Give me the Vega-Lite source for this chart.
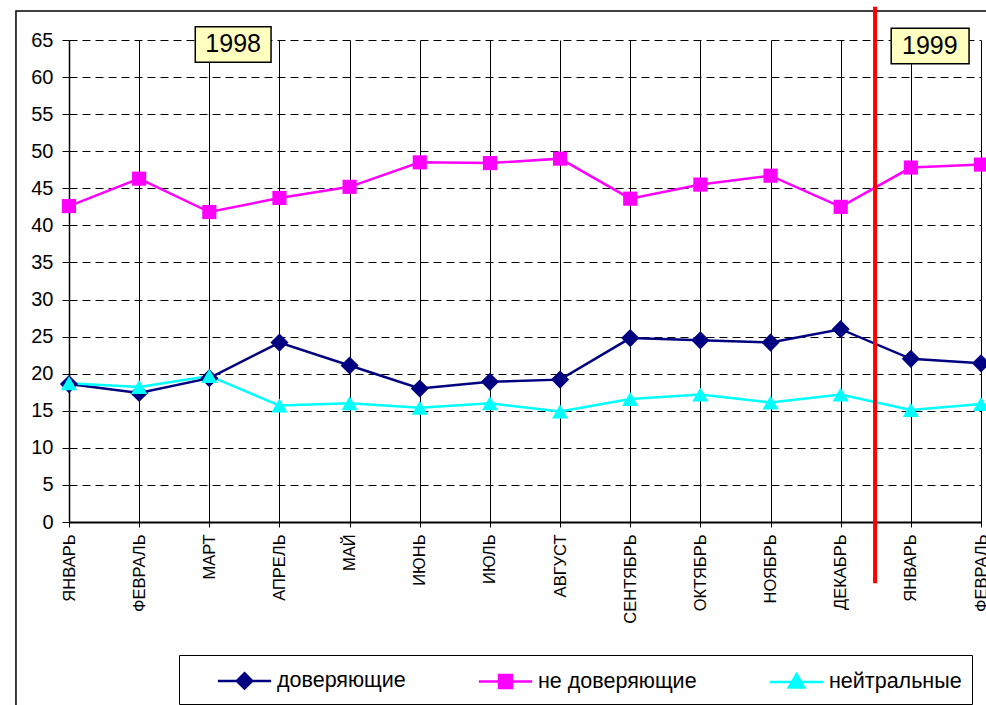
{
  "$schema": "https://vega.github.io/schema/vega-lite/v6.json",
  "autosize": {"type": "none"},
  "padding": {"left": 69, "top": 40, "right": 5, "bottom": 183},
  "width": 912,
  "height": 482,
  "background": "white",
  "config": {
    "view": {"stroke": null},
    "font": "Liberation Sans",
    "axisX": {
      "labelFontSize": 16, "labelColor": "black", "labelPadding": 7, "labelFlush": false, "labelOverlap": false,
      "tickSize": 5, "tickColor": "black", "domainColor": "black", "domainWidth": 2,
      "grid": true, "gridColor": "black", "gridWidth": 1, "gridOpacity": 1
    },
    "axisY": {
      "labelFontSize": 20, "labelColor": "black", "labelPadding": 9, "labelFlush": false, "labelOverlap": false,
      "tickSize": 7, "tickColor": "black", "domainColor": "black", "domainWidth": 1.5,
      "grid": true, "gridColor": "black", "gridWidth": 1, "gridOpacity": 1, "gridDash": [8, 5]
    }
  },
  "data": {"values": [
    {"i": 0, "m": "ЯНВАРЬ", "s": "доверяющие", "v": 18.6},
    {"i": 1, "m": "ФЕВРАЛЬ", "s": "доверяющие", "v": 17.4},
    {"i": 2, "m": "МАРТ", "s": "доверяющие", "v": 19.4},
    {"i": 3, "m": "АПРЕЛЬ", "s": "доверяющие", "v": 24.2},
    {"i": 4, "m": "МАЙ", "s": "доверяющие", "v": 21.1},
    {"i": 5, "m": "ИЮНЬ", "s": "доверяющие", "v": 18.0},
    {"i": 6, "m": "ИЮЛЬ", "s": "доверяющие", "v": 18.9},
    {"i": 7, "m": "АВГУСТ", "s": "доверяющие", "v": 19.2},
    {"i": 8, "m": "СЕНТЯБРЬ", "s": "доверяющие", "v": 24.8},
    {"i": 9, "m": "ОКТЯБРЬ", "s": "доверяющие", "v": 24.5},
    {"i": 10, "m": "НОЯБРЬ", "s": "доверяющие", "v": 24.2},
    {"i": 11, "m": "ДЕКАБРЬ", "s": "доверяющие", "v": 26.0},
    {"i": 12, "m": "ЯНВАРЬ", "s": "доверяющие", "v": 22.0},
    {"i": 13, "m": "ФЕВРАЛЬ", "s": "доверяющие", "v": 21.4},
    {"i": 0, "m": "ЯНВАРЬ", "s": "не доверяющие", "v": 42.6},
    {"i": 1, "m": "ФЕВРАЛЬ", "s": "не доверяющие", "v": 46.3},
    {"i": 2, "m": "МАРТ", "s": "не доверяющие", "v": 41.8},
    {"i": 3, "m": "АПРЕЛЬ", "s": "не доверяющие", "v": 43.7},
    {"i": 4, "m": "МАЙ", "s": "не доверяющие", "v": 45.2},
    {"i": 5, "m": "ИЮНЬ", "s": "не доверяющие", "v": 48.5},
    {"i": 6, "m": "ИЮЛЬ", "s": "не доверяющие", "v": 48.4},
    {"i": 7, "m": "АВГУСТ", "s": "не доверяющие", "v": 49.0},
    {"i": 8, "m": "СЕНТЯБРЬ", "s": "не доверяющие", "v": 43.6},
    {"i": 9, "m": "ОКТЯБРЬ", "s": "не доверяющие", "v": 45.5},
    {"i": 10, "m": "НОЯБРЬ", "s": "не доверяющие", "v": 46.7},
    {"i": 11, "m": "ДЕКАБРЬ", "s": "не доверяющие", "v": 42.5},
    {"i": 12, "m": "ЯНВАРЬ", "s": "не доверяющие", "v": 47.8},
    {"i": 13, "m": "ФЕВРАЛЬ", "s": "не доверяющие", "v": 48.2},
    {"i": 0, "m": "ЯНВАРЬ", "s": "нейтральные", "v": 18.7},
    {"i": 1, "m": "ФЕВРАЛЬ", "s": "нейтральные", "v": 18.2},
    {"i": 2, "m": "МАРТ", "s": "нейтральные", "v": 19.7},
    {"i": 3, "m": "АПРЕЛЬ", "s": "нейтральные", "v": 15.7},
    {"i": 4, "m": "МАЙ", "s": "нейтральные", "v": 16.0},
    {"i": 5, "m": "ИЮНЬ", "s": "нейтральные", "v": 15.4},
    {"i": 6, "m": "ИЮЛЬ", "s": "нейтральные", "v": 16.0},
    {"i": 7, "m": "АВГУСТ", "s": "нейтральные", "v": 14.9},
    {"i": 8, "m": "СЕНТЯБРЬ", "s": "нейтральные", "v": 16.6},
    {"i": 9, "m": "ОКТЯБРЬ", "s": "нейтральные", "v": 17.2},
    {"i": 10, "m": "НОЯБРЬ", "s": "нейтральные", "v": 16.1},
    {"i": 11, "m": "ДЕКАБРЬ", "s": "нейтральные", "v": 17.2},
    {"i": 12, "m": "ЯНВАРЬ", "s": "нейтральные", "v": 15.1},
    {"i": 13, "m": "ФЕВРАЛЬ", "s": "нейтральные", "v": 15.9}
  ]},
  "layer": [
    {
      "mark": {"type": "line", "strokeWidth": 2.5},
      "encoding": {
        "x": {
          "field": "i", "type": "quantitative",
          "scale": {"domain": [0, 13], "nice": false, "zero": false},
          "axis": {"title": null, "values": [0, 1, 2, 3, 4, 5, 6, 7, 8, 9, 10, 11, 12, 13], "tickCount": 30, "labelFontSize": 16.5, "labelAngle": -90, "labelExpr": "['ЯНВАРЬ','ФЕВРАЛЬ','МАРТ','АПРЕЛЬ','МАЙ','ИЮНЬ','ИЮЛЬ','АВГУСТ','СЕНТЯБРЬ','ОКТЯБРЬ','НОЯБРЬ','ДЕКАБРЬ','ЯНВАРЬ','ФЕВРАЛЬ'][datum.value]"}
        },
        "y": {
          "field": "v", "type": "quantitative",
          "scale": {"domain": [0, 65], "nice": false},
          "axis": {"title": null, "values": [0, 5, 10, 15, 20, 25, 30, 35, 40, 45, 50, 55, 60, 65], "tickCount": 30, "labelFontSize": 20}
        },
        "color": {
          "field": "s", "type": "nominal",
          "scale": {"domain": ["доверяющие", "не доверяющие", "нейтральные"], "range": ["#000080", "#FF00FF", "#00FFFF"]},
          "legend": {
            "orient": "none",
            "legendX": 110,
            "legendY": 615,
            "direction": "horizontal",
            "columns": 3,
            "title": null,
            "labelFont": "Liberation Sans",
            "labelFontSize": 21.5,
            "labelColor": "black",
            "symbolSize": 784,
            "symbolStrokeWidth": 2.5,
            "symbolOffset": 40,
            "labelOffset": 17,
            "columnPadding": 44,
            "padding": 10,
            "strokeColor": "black",
            "fillColor": "white",
            "encode": {
              "symbols": {
                "update": {
                  "shape": {"signal": "datum.value === 'доверяющие' ? 'M-1.9,0H1.9M0,-0.55L0.55,0L0,0.55L-0.55,0Z' : datum.value === 'не доверяющие' ? 'M-1.9,0H1.9M-0.46,-0.46H0.46V0.46H-0.46Z' : 'M-1.9,0H1.9M0,-0.55L0.55,0.4H-0.55Z'"},
                  "stroke": {"signal": "scale('color', datum.value)"},
                  "fill": {"signal": "scale('color', datum.value)"},
                  "strokeWidth": {"value": 2.5},
                  "opacity": {"value": 1}
                }
              }
            }
          }
        }
      }
    },
    {
      "transform": [{"filter": "datum.s === 'доверяющие'"}],
      "mark": {"type": "point", "filled": true, "opacity": 1, "shape": "diamond", "size": 330, "color": "#000080"},
      "encoding": {
        "x": {"field": "i", "type": "quantitative", "axis": {"title": null, "values": [0, 1, 2, 3, 4, 5, 6, 7, 8, 9, 10, 11, 12, 13], "tickCount": 30, "labelFontSize": 16.5, "labelAngle": -90, "labelExpr": "['ЯНВАРЬ','ФЕВРАЛЬ','МАРТ','АПРЕЛЬ','МАЙ','ИЮНЬ','ИЮЛЬ','АВГУСТ','СЕНТЯБРЬ','ОКТЯБРЬ','НОЯБРЬ','ДЕКАБРЬ','ЯНВАРЬ','ФЕВРАЛЬ'][datum.value]"}},
        "y": {"field": "v", "type": "quantitative", "axis": {"title": null, "values": [0, 5, 10, 15, 20, 25, 30, 35, 40, 45, 50, 55, 60, 65], "tickCount": 30, "labelFontSize": 20}}
      }
    },
    {
      "transform": [{"filter": "datum.s === 'не доверяющие'"}],
      "mark": {"type": "point", "filled": true, "opacity": 1, "shape": "square", "size": 200, "color": "#FF00FF"},
      "encoding": {
        "x": {"field": "i", "type": "quantitative", "axis": {"title": null, "values": [0, 1, 2, 3, 4, 5, 6, 7, 8, 9, 10, 11, 12, 13], "tickCount": 30, "labelFontSize": 16.5, "labelAngle": -90, "labelExpr": "['ЯНВАРЬ','ФЕВРАЛЬ','МАРТ','АПРЕЛЬ','МАЙ','ИЮНЬ','ИЮЛЬ','АВГУСТ','СЕНТЯБРЬ','ОКТЯБРЬ','НОЯБРЬ','ДЕКАБРЬ','ЯНВАРЬ','ФЕВРАЛЬ'][datum.value]"}},
        "y": {"field": "v", "type": "quantitative", "axis": {"title": null, "values": [0, 5, 10, 15, 20, 25, 30, 35, 40, 45, 50, 55, 60, 65], "tickCount": 30, "labelFontSize": 20}}
      }
    },
    {
      "transform": [{"filter": "datum.s === 'нейтральные'"}],
      "mark": {"type": "point", "filled": true, "opacity": 1, "shape": "triangle-up", "size": 260, "color": "#00FFFF"},
      "encoding": {
        "x": {"field": "i", "type": "quantitative", "axis": {"title": null, "values": [0, 1, 2, 3, 4, 5, 6, 7, 8, 9, 10, 11, 12, 13], "tickCount": 30, "labelFontSize": 16.5, "labelAngle": -90, "labelExpr": "['ЯНВАРЬ','ФЕВРАЛЬ','МАРТ','АПРЕЛЬ','МАЙ','ИЮНЬ','ИЮЛЬ','АВГУСТ','СЕНТЯБРЬ','ОКТЯБРЬ','НОЯБРЬ','ДЕКАБРЬ','ЯНВАРЬ','ФЕВРАЛЬ'][datum.value]"}},
        "y": {"field": "v", "type": "quantitative", "axis": {"title": null, "values": [0, 5, 10, 15, 20, 25, 30, 35, 40, 45, 50, 55, 60, 65], "tickCount": 30, "labelFontSize": 20}}
      }
    },
    {
      "data": {"values": [{}]},
      "mark": {"type": "rect", "fill": "transparent", "stroke": "black", "strokeWidth": 1.5},
      "encoding": {
        "x": {"datum": -0.756, "type": "quantitative", "axis": {"title": null, "values": [0, 1, 2, 3, 4, 5, 6, 7, 8, 9, 10, 11, 12, 13], "tickCount": 30, "labelFontSize": 16.5, "labelAngle": -90, "labelExpr": "['ЯНВАРЬ','ФЕВРАЛЬ','МАРТ','АПРЕЛЬ','МАЙ','ИЮНЬ','ИЮЛЬ','АВГУСТ','СЕНТЯБРЬ','ОКТЯБРЬ','НОЯБРЬ','ДЕКАБРЬ','ЯНВАРЬ','ФЕВРАЛЬ'][datum.value]"}},
        "x2": {"datum": 14.5},
        "y": {"datum": 68.9, "type": "quantitative", "axis": {"title": null, "values": [0, 5, 10, 15, 20, 25, 30, 35, 40, 45, 50, 55, 60, 65], "tickCount": 30, "labelFontSize": 20}},
        "y2": {"datum": -40}
      }
    },
    {
      "data": {"values": [{}]},
      "mark": {"type": "rule", "color": "#FF0000", "strokeWidth": 4},
      "encoding": {
        "x": {"datum": 11.49, "type": "quantitative", "axis": {"title": null, "values": [0, 1, 2, 3, 4, 5, 6, 7, 8, 9, 10, 11, 12, 13], "tickCount": 30, "labelFontSize": 16.5, "labelAngle": -90, "labelExpr": "['ЯНВАРЬ','ФЕВРАЛЬ','МАРТ','АПРЕЛЬ','МАЙ','ИЮНЬ','ИЮЛЬ','АВГУСТ','СЕНТЯБРЬ','ОКТЯБРЬ','НОЯБРЬ','ДЕКАБРЬ','ЯНВАРЬ','ФЕВРАЛЬ'][datum.value]"}},
        "y": {"datum": 69.5, "type": "quantitative", "axis": {"title": null, "values": [0, 5, 10, 15, 20, 25, 30, 35, 40, 45, 50, 55, 60, 65], "tickCount": 30, "labelFontSize": 20}},
        "y2": {"datum": -8.25}
      }
    },
    {
      "data": {"values": [{}]},
      "mark": {"type": "rect", "fill": "#FFFFC0", "stroke": "black", "strokeWidth": 1.5},
      "encoding": {
        "x": {"datum": 1.80, "type": "quantitative", "axis": {"title": null, "values": [0, 1, 2, 3, 4, 5, 6, 7, 8, 9, 10, 11, 12, 13], "tickCount": 30, "labelFontSize": 16.5, "labelAngle": -90, "labelExpr": "['ЯНВАРЬ','ФЕВРАЛЬ','МАРТ','АПРЕЛЬ','МАЙ','ИЮНЬ','ИЮЛЬ','АВГУСТ','СЕНТЯБРЬ','ОКТЯБРЬ','НОЯБРЬ','ДЕКАБРЬ','ЯНВАРЬ','ФЕВРАЛЬ'][datum.value]"}},
        "x2": {"datum": 2.88},
        "y": {"datum": 66.8, "type": "quantitative", "axis": {"title": null, "values": [0, 5, 10, 15, 20, 25, 30, 35, 40, 45, 50, 55, 60, 65], "tickCount": 30, "labelFontSize": 20}},
        "y2": {"datum": 62.0}
      }
    },
    {
      "data": {"values": [{}]},
      "mark": {"type": "text", "fontSize": 25, "color": "black", "align": "center", "baseline": "middle", "font": "Liberation Sans"},
      "encoding": {
        "x": {"datum": 2.34, "type": "quantitative", "axis": {"title": null, "values": [0, 1, 2, 3, 4, 5, 6, 7, 8, 9, 10, 11, 12, 13], "tickCount": 30, "labelFontSize": 16.5, "labelAngle": -90, "labelExpr": "['ЯНВАРЬ','ФЕВРАЛЬ','МАРТ','АПРЕЛЬ','МАЙ','ИЮНЬ','ИЮЛЬ','АВГУСТ','СЕНТЯБРЬ','ОКТЯБРЬ','НОЯБРЬ','ДЕКАБРЬ','ЯНВАРЬ','ФЕВРАЛЬ'][datum.value]"}},
        "y": {"datum": 64.4, "type": "quantitative", "axis": {"title": null, "values": [0, 5, 10, 15, 20, 25, 30, 35, 40, 45, 50, 55, 60, 65], "tickCount": 30, "labelFontSize": 20}},
        "text": {"value": "1998"}
      }
    },
    {
      "data": {"values": [{}]},
      "mark": {"type": "rect", "fill": "#FFFFC0", "stroke": "black", "strokeWidth": 1.5},
      "encoding": {
        "x": {"datum": 11.72, "type": "quantitative", "axis": {"title": null, "values": [0, 1, 2, 3, 4, 5, 6, 7, 8, 9, 10, 11, 12, 13], "tickCount": 30, "labelFontSize": 16.5, "labelAngle": -90, "labelExpr": "['ЯНВАРЬ','ФЕВРАЛЬ','МАРТ','АПРЕЛЬ','МАЙ','ИЮНЬ','ИЮЛЬ','АВГУСТ','СЕНТЯБРЬ','ОКТЯБРЬ','НОЯБРЬ','ДЕКАБРЬ','ЯНВАРЬ','ФЕВРАЛЬ'][datum.value]"}},
        "x2": {"datum": 12.83},
        "y": {"datum": 66.6, "type": "quantitative", "axis": {"title": null, "values": [0, 5, 10, 15, 20, 25, 30, 35, 40, 45, 50, 55, 60, 65], "tickCount": 30, "labelFontSize": 20}},
        "y2": {"datum": 61.8}
      }
    },
    {
      "data": {"values": [{}]},
      "mark": {"type": "text", "fontSize": 25, "color": "black", "align": "center", "baseline": "middle", "font": "Liberation Sans"},
      "encoding": {
        "x": {"datum": 12.27, "type": "quantitative", "axis": {"title": null, "values": [0, 1, 2, 3, 4, 5, 6, 7, 8, 9, 10, 11, 12, 13], "tickCount": 30, "labelFontSize": 16.5, "labelAngle": -90, "labelExpr": "['ЯНВАРЬ','ФЕВРАЛЬ','МАРТ','АПРЕЛЬ','МАЙ','ИЮНЬ','ИЮЛЬ','АВГУСТ','СЕНТЯБРЬ','ОКТЯБРЬ','НОЯБРЬ','ДЕКАБРЬ','ЯНВАРЬ','ФЕВРАЛЬ'][datum.value]"}},
        "y": {"datum": 64.2, "type": "quantitative", "axis": {"title": null, "values": [0, 5, 10, 15, 20, 25, 30, 35, 40, 45, 50, 55, 60, 65], "tickCount": 30, "labelFontSize": 20}},
        "text": {"value": "1999"}
      }
    }
  ]
}
